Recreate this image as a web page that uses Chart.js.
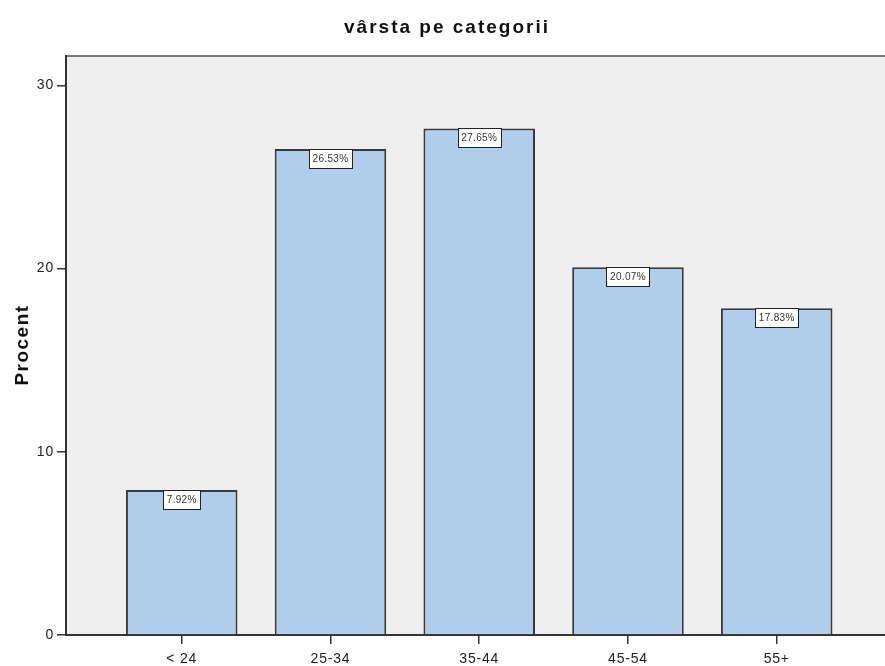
<!DOCTYPE html>
<html lang="ro">
<head>
<meta charset="utf-8">
<title>vârsta pe categorii</title>
<script src="https://cdn.jsdelivr.net/npm/chart.js@4"></script>
<style>
  body { margin: 0; background: #fff; }
  canvas { display: block; }
</style>
</head>
<body>
<canvas id="ageChart" width="885" height="666"></canvas>
<script>
// Данные графика
const categories = ['< 24', '25-34', '35-44', '45-54', '55+']; // Категории (ось X)
const percents = [7.92, 26.53, 27.65, 20.07, 17.83]; // Проценты (ось Y)
const yTicks = [0, 10, 20, 30]; // Метки оси Y

const chartTitle = 'vârsta pe categorii';
const yTitle = 'Procent';
const font = 'Arial, "Liberation Sans", sans-serif';

// Серый фон области построения и рамка сверху
const backgroundPlugin = {
    id: 'plotBackground',
    beforeDraw(chart) {
        const { ctx, chartArea: a } = chart;
        ctx.save();
        ctx.fillStyle = '#efefef';
        ctx.fillRect(a.left, a.top, a.right - a.left, a.bottom - a.top);
        ctx.strokeStyle = '#7a7a7a';
        ctx.lineWidth = 2;
        ctx.beginPath();
        ctx.moveTo(a.left, a.top);
        ctx.lineTo(a.right, a.top);
        ctx.stroke();
        ctx.restore();
        ctx.letterSpacing = '0.8px'; // Разрядка для подписей осей
    }
};

// Подписи значений в белых рамках
const valueLabelPlugin = {
    id: 'valueLabels',
    afterDatasetsDraw(chart) {
        const ctx = chart.ctx;
        const meta = chart.getDatasetMeta(0);
        ctx.save();
        ctx.letterSpacing = '0.3px';
        ctx.font = '10px ' + font;
        ctx.textAlign = 'center';
        ctx.textBaseline = 'middle';
        meta.data.forEach((bar, i) => {
            const text = percents[i].toFixed(2) + '%';
            const w = Math.round(ctx.measureText(text).width) + 7;
            const h = 19;
            const x = Math.round(bar.x - w / 2) + 0.5;
            const y = Math.round(bar.y) + 0.5;
            ctx.fillStyle = '#fff';
            ctx.fillRect(x, y, w, h);
            ctx.strokeStyle = '#222';
            ctx.lineWidth = 1;
            ctx.strokeRect(x, y, w, h);
            ctx.fillStyle = '#333';
            ctx.fillText(text, bar.x, y + h / 2 + 0.5);
        });
        ctx.restore();
    }
};

// Заголовок и название оси Y (с разрядкой, как в оригинале)
const titlePlugin = {
    id: 'spacedTitles',
    afterDraw(chart) {
        const ctx = chart.ctx;
        ctx.save();
        ctx.fillStyle = '#111';
        ctx.font = 'bold 19px ' + font;
        ctx.textAlign = 'center';
        ctx.textBaseline = 'alphabetic';
        ctx.letterSpacing = '2px';
        ctx.fillText(chartTitle, 447, 33);
        ctx.letterSpacing = '1.5px';
        ctx.translate(28, 346);
        ctx.rotate(-Math.PI / 2);
        ctx.fillText(yTitle, 1, 0);
        ctx.restore();
        ctx.letterSpacing = '0px';
    }
};

const ctx = document.getElementById('ageChart').getContext('2d');
const chart = new Chart(ctx, {
    type: 'bar',
    data: {
        datasets: [{
            label: yTitle,
            data: categories.map((c, i) => ({ x: i, y: percents[i] })),
            backgroundColor: '#b0ceec',
            borderColor: '#3a3a3a',
            borderWidth: 2,
            categoryPercentage: 1,
            barPercentage: 0.75
        }]
    },
    options: {
        responsive: false,
        animation: false,
        layout: { padding: { top: 56, right: 0, bottom: 0, left: 0 } },
        plugins: {
            legend: { display: false },
            tooltip: { enabled: false },
            title: { display: false }
        },
        scales: {
            x: {
                type: 'linear',
                offset: false, // Без смещения — границы задаём сами
                min: -0.778,
                max: 4.728,
                afterBuildTicks: s => { s.ticks = categories.map((c, i) => ({ value: i })); },
                afterFit: s => { s.height = 31; },
                ticks: {
                    callback: v => categories[v],
                    color: '#222',
                    font: { family: font, size: 14 },
                    padding: 7,
                    maxRotation: 0,
                    autoSkip: false
                },
                grid: { offset: false, drawOnChartArea: false, tickLength: 9, color: '#333', lineWidth: 1.5 },
                border: { display: true, color: '#333', width: 2 }
            },
            y: {
                min: 0,
                max: 31.6,
                afterBuildTicks: s => { s.ticks = yTicks.map(v => ({ value: v })); },
                afterFit: s => { s.width = 66; },
                ticks: {
                    color: '#222',
                    font: { family: font, size: 14 },
                    padding: 3
                },
                grid: { drawOnChartArea: false, tickLength: 9, color: '#333', lineWidth: 1.5 },
                border: { display: true, color: '#333', width: 2 }
            }
        }
    },
    plugins: [backgroundPlugin, valueLabelPlugin, titlePlugin]
});
</script>
</body>
</html>
